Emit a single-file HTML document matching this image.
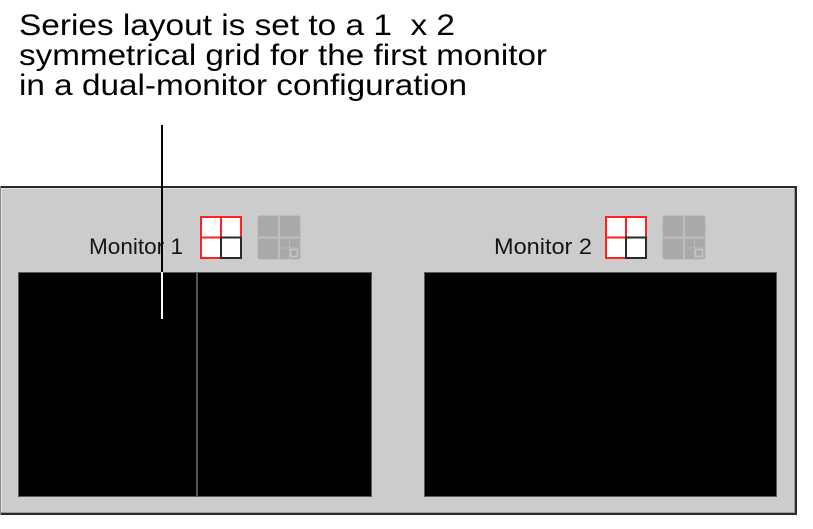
<!DOCTYPE html>
<html>
<head>
<meta charset="utf-8">
<style>
  html, body { margin:0; padding:0; background:#ffffff; }
  body { width:813px; height:529px; overflow:hidden; }
  svg { display:block; }
  text { font-family: "Liberation Sans", Arial, sans-serif; }
</style>
</head>
<body>
<svg width="813" height="529" viewBox="0 0 813 529" xmlns="http://www.w3.org/2000/svg">
  <rect x="0" y="0" width="813" height="529" fill="#ffffff"/>

  <!-- Caption text -->
  <text x="19" y="35" font-size="30" fill="#000" textLength="436" lengthAdjust="spacingAndGlyphs" xml:space="preserve">Series layout is set to a 1  x 2</text>
  <text x="19" y="65" font-size="30" fill="#000" textLength="528" lengthAdjust="spacingAndGlyphs">symmetrical grid for the first monitor</text>
  <text x="19" y="95" font-size="30" fill="#000" textLength="448" lengthAdjust="spacingAndGlyphs">in a dual-monitor configuration</text>

  <!-- Panel -->
  <rect x="0" y="186" width="797" height="329" fill="#cccccc"/>
  <rect x="0" y="186" width="797" height="2" fill="#2a2a2a"/>
  <rect x="795" y="186" width="2" height="329" fill="#2a2a2a"/>
  <rect x="0" y="513" width="797" height="2" fill="#2a2a2a"/>
  <rect x="0" y="186" width="1" height="329" fill="#8a8a8a"/>
  <rect x="1" y="188" width="1" height="325" fill="#e4e4e4"/>
  <rect x="2" y="188" width="792" height="1" fill="#e4e4e4"/>
  <rect x="794" y="188" width="1" height="325" fill="#9a9a9a"/>
  <rect x="1" y="512" width="794" height="1" fill="#9a9a9a"/>

  <!-- Monitor labels -->
  <text x="89" y="254" font-size="22" fill="#151515" textLength="94" lengthAdjust="spacingAndGlyphs">Monitor 1</text>
  <text x="494" y="254" font-size="22" fill="#151515" textLength="98" lengthAdjust="spacingAndGlyphs">Monitor 2</text>

  <!-- Icons monitor 1 -->
  <g>
    <rect x="201" y="217" width="40" height="41" fill="#ffffff" stroke="#ff2020" stroke-width="2"/>
    <line x1="221" y1="217" x2="221" y2="258" stroke="#ff2020" stroke-width="2"/>
    <line x1="201" y1="237.5" x2="241" y2="237.5" stroke="#ff2020" stroke-width="2"/>
    <rect x="221" y="237.5" width="20" height="20.5" fill="#ffffff" stroke="#2a2a2a" stroke-width="2"/>
    <rect x="258" y="216" width="42" height="43" rx="2" fill="#a9a9a9" stroke="#b0b0b0" stroke-width="1"/>
    <line x1="279" y1="216" x2="279" y2="259" stroke="#bdbdbd" stroke-width="2"/>
    <line x1="258" y1="237.5" x2="300" y2="237.5" stroke="#bdbdbd" stroke-width="2"/>
    <line x1="289.5" y1="238" x2="289.5" y2="259" stroke="#b8b8b8" stroke-width="1"/>
    <line x1="279" y1="248" x2="300" y2="248" stroke="#b8b8b8" stroke-width="1"/>
    <rect x="290.5" y="249.5" width="7" height="7" fill="#a9a9a9" stroke="#c4c4c4" stroke-width="1.5"/>
  </g>

  <!-- Icons monitor 2 -->
  <g transform="translate(405,0)">
    <rect x="201" y="217" width="40" height="41" fill="#ffffff" stroke="#ff2020" stroke-width="2"/>
    <line x1="221" y1="217" x2="221" y2="258" stroke="#ff2020" stroke-width="2"/>
    <line x1="201" y1="237.5" x2="241" y2="237.5" stroke="#ff2020" stroke-width="2"/>
    <rect x="221" y="237.5" width="20" height="20.5" fill="#ffffff" stroke="#2a2a2a" stroke-width="2"/>
    <rect x="258" y="216" width="42" height="43" rx="2" fill="#a9a9a9" stroke="#b0b0b0" stroke-width="1"/>
    <line x1="279" y1="216" x2="279" y2="259" stroke="#bdbdbd" stroke-width="2"/>
    <line x1="258" y1="237.5" x2="300" y2="237.5" stroke="#bdbdbd" stroke-width="2"/>
    <line x1="289.5" y1="238" x2="289.5" y2="259" stroke="#b8b8b8" stroke-width="1"/>
    <line x1="279" y1="248" x2="300" y2="248" stroke="#b8b8b8" stroke-width="1"/>
    <rect x="290.5" y="249.5" width="7" height="7" fill="#a9a9a9" stroke="#c4c4c4" stroke-width="1.5"/>
  </g>

  <!-- Black viewports -->
  <rect x="18" y="272" width="354" height="225" fill="#000000"/>
  <rect x="18.5" y="272.5" width="353" height="224" fill="none" stroke="#5a5a5a" stroke-width="1"/>
  <rect x="196" y="272" width="2" height="225" fill="#555555"/>

  <rect x="424" y="272" width="353" height="225" fill="#000000"/>
  <rect x="424.5" y="272.5" width="352" height="224" fill="none" stroke="#5a5a5a" stroke-width="1"/>

  <!-- Callout line -->
  <rect x="161" y="125" width="2" height="147" fill="#000000"/>
  <rect x="161" y="272" width="2" height="47" fill="#ffffff"/>
</svg>
</body>
</html>
